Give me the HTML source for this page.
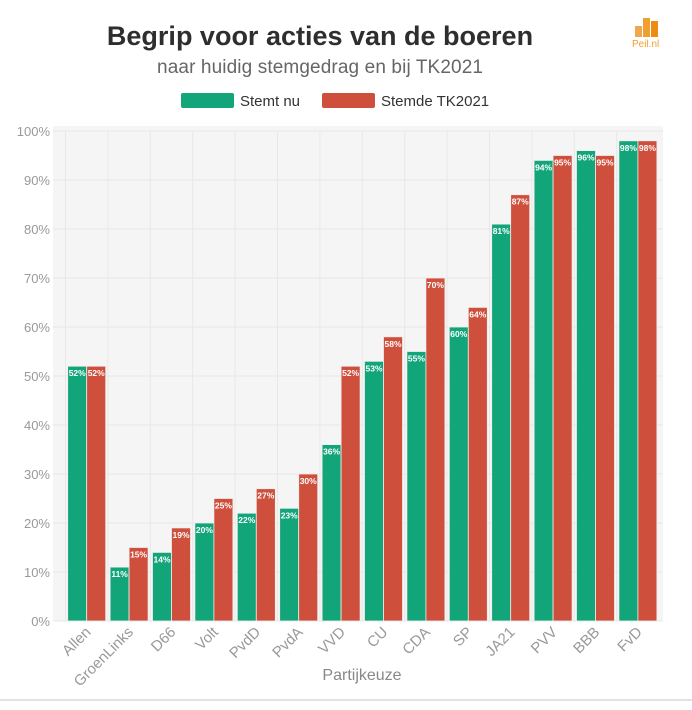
<!DOCTYPE html>
<html><head><meta charset="utf-8"><style>
body{margin:0;background:#fff;width:692px;height:705px;overflow:hidden;font-family:"Liberation Sans",sans-serif}
</style></head><body>
<svg width="692" height="705" xmlns="http://www.w3.org/2000/svg" font-family="Liberation Sans, sans-serif">
<rect width="692" height="705" fill="#fff"/>
<text x="320" y="45" text-anchor="middle" font-size="27" font-weight="bold" fill="#2e2e2e">Begrip voor acties van de boeren</text>
<text x="320" y="73" text-anchor="middle" font-size="19" fill="#666" textLength="326">naar huidig stemgedrag en bij TK2021</text>
<rect x="181" y="93" width="53" height="15" rx="2" fill="#13a57a"/>
<text x="240" y="106" font-size="15" fill="#333">Stemt nu</text>
<rect x="322" y="93" width="53" height="15" rx="2" fill="#cf4f3d"/>
<text x="381" y="106" font-size="15" fill="#333">Stemde TK2021</text>
<rect x="635" y="26" width="7" height="11" fill="#f0a850"/>
<rect x="643" y="18" width="7" height="19" fill="#f0a030"/>
<rect x="651" y="21" width="7" height="16" fill="#ee8c10"/>
<text x="632" y="47" font-size="10" fill="#f0a030">Peil.nl</text>
<rect x="53" y="126" width="610" height="495" fill="#f5f5f5"/>
<g id="g"></g>
<line x1="0" y1="700" x2="692" y2="700" stroke="#e2e2e2" stroke-width="2"/>
<text x="362" y="680" text-anchor="middle" font-size="16" fill="#888">Partijkeuze</text>
</svg>
<script>
const G=[52,11,14,20,22,23,36,53,55,60,81,94,96,98],R=[52,15,19,25,27,30,52,58,70,64,87,95,95,98];
const N=["Allen","GroenLinks","D66","Volt","PvdD","PvdA","VVD","CU","CDA","SP","JA21","PVV","BBB","FvD"];
let s="";
for(let i=0;i<=10;i++){const y=621-i*49;s+=`<line x1="53" x2="663" y1="${y}" y2="${y}" stroke="#e8e8e8"/><text x="50" y="${y+5}" text-anchor="end" font-size="13" fill="#999">${i*10}%</text>`;}
for(let i=0;i<14;i++){const c=86.7+i*42.4;s+=`<line x1="${c-21.2}" x2="${c-21.2}" y1="131" y2="621" stroke="#e8e8e8"/>`;}
for(let i=0;i<14;i++){const c=86.7+i*42.4;
[[G[i],c-19,"#13a57a"],[R[i],c,"#cf4f3d"]].forEach(([v,x,col])=>{const h=v*4.9;s+=`<rect x="${x}" y="${621-h}" width="19" height="${h}" fill="${col}" stroke="#eee" stroke-width="0.8"/><text x="${x+9.5}" y="${621-h+10}" text-anchor="middle" font-size="8.5" font-weight="bold" fill="#fff">${v}%</text>`;});
s+=`<text transform="translate(${c+5},633) rotate(-45)" text-anchor="end" font-size="15" fill="#999">${N[i]}</text>`;}
document.getElementById("g").innerHTML=s;
</script>
</body></html>
